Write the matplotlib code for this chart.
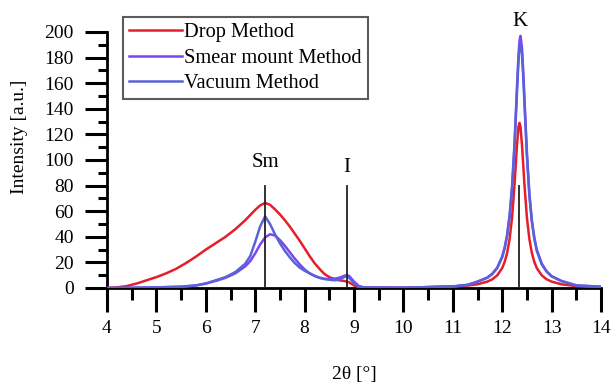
import matplotlib
matplotlib.use("Agg")
import matplotlib.pyplot as plt
from matplotlib.ticker import MultipleLocator

plt.rcParams['font.family'] = ['Liberation Serif', 'DejaVu Serif']

# ---- data ----
k_x = [11.0, 11.3, 11.5, 11.7, 11.8, 11.9, 12.0, 12.05, 12.1, 12.15, 12.2, 12.25,
       12.3, 12.33, 12.35, 12.37, 12.4, 12.43, 12.45, 12.5, 12.55, 12.6, 12.65,
       12.7, 12.8, 12.9, 13.0, 13.2, 13.5, 14.0]

drop_x = [4.0, 4.2, 4.4, 4.6, 4.8, 5.0, 5.2, 5.4, 5.6, 5.8, 6.0, 6.2, 6.4, 6.6, 6.8,
          6.9, 7.0, 7.1, 7.2, 7.3, 7.4, 7.5, 7.6, 7.7, 7.8, 7.9, 8.0, 8.1, 8.2, 8.3,
          8.4, 8.5, 8.6, 8.7, 8.8, 8.9, 9.0, 9.1, 9.3, 10.0] + k_x
drop_y = [0.0, 0.5, 1.5, 3.5, 6, 8.5, 11.5, 15, 19.5, 24.5, 30, 35, 40, 46, 53,
          57, 61, 64.5, 66.5, 65, 61.5, 57.5, 53, 48, 42.5, 37, 31, 25, 19.5, 15,
          11, 8.5, 7, 6, 5.5, 4.5, 2, 0.8, 0.3, 0.2,
          1.2, 1.9, 2.9, 5, 6.8, 9.9, 15.6, 20.4, 27.4, 38.3, 55, 81,
          112, 126, 129, 126, 112, 93.5, 81, 55, 38.3, 27.4, 20.4,
          15.6, 9.9, 6.8, 5, 2.9, 1.5, 0.5]

smear_x = [4.0, 4.5, 5.0, 5.5, 5.8, 6.0, 6.2, 6.4, 6.6, 6.8, 6.9, 7.0, 7.1, 7.2,
           7.3, 7.4, 7.5, 7.6, 7.7, 7.8, 7.9, 8.0, 8.1, 8.2, 8.3, 8.4, 8.5, 8.6,
           8.7, 8.8, 8.85, 8.9, 9.0, 9.1, 9.2, 10.0] + k_x
smear_y = [0.0, 0.2, 0.5, 1, 2, 3.5, 5.5, 8, 11.5, 17, 21, 27, 34, 39.5,
           42, 41, 37.5, 33, 28, 23, 18.5, 14.5, 11.5, 9.5, 8, 7.2, 7, 7.2,
           8, 9.5, 10, 9.5, 5, 1.5, 0.5, 0.2,
           1.2, 2.5, 5, 8.2, 11.2, 16, 24.7, 31.7, 41.7, 56.8, 79.7, 113.5,
           157.6, 182, 193, 197, 188, 166, 148.5, 106, 74, 53, 39.4,
           30, 19, 13, 9.3, 5.5, 2, 1]

vac_x = [4.0, 4.5, 5.0, 5.5, 5.8, 6.0, 6.2, 6.4, 6.6, 6.8, 6.9, 7.0, 7.1, 7.2,
         7.3, 7.4, 7.5, 7.6, 7.7, 7.8, 7.9, 8.0, 8.1, 8.2, 8.3, 8.4, 8.5, 8.6,
         8.7, 8.8, 8.85, 8.9, 9.0, 9.1, 9.2, 10.0] + k_x
vac_y = [0.0, 0.2, 0.5, 1, 2, 3.5, 6, 8.5, 12.5, 19, 25, 36, 48, 56,
         50, 42, 35, 29, 24, 19.5, 16, 13.5, 11.5, 9.5, 8, 7, 6.5, 6,
         6.5, 8.5, 9.5, 8, 4, 1, 0.3, 0.2,
         1.2, 2.4, 4.9, 8, 10.9, 15.6, 24, 31, 40.7, 55.4, 77.7, 110.7,
         153.7, 177.5, 188, 192, 183, 162, 145, 103, 72, 52, 38.4,
         29, 18.5, 12.7, 9, 5.4, 2, 1]

markers_x = [7.2, 8.85, 12.35]
markers_h = [80, 80, 80]
marker_labels = ['Sm', 'I', 'K']
marker_label_y = [98, 94, 208]

series_names = ['Drop Method', 'Smear mount Method', 'Vacuum Method']
series_colors = ['#e61e2a', '#7b45f5', '#5a62d8']

x_ticks = [4, 5, 6, 7, 8, 9, 10, 11, 12, 13, 14]
y_ticks = [0, 20, 40, 60, 80, 100, 120, 140, 160, 180, 200]

# ---- figure ----
fig = plt.figure(figsize=(6.12, 3.87), dpi=100)
W, H = 612, 387
ax = fig.add_axes([107 / W, 1 - 288 / H, (601 - 107) / W, (288 - 32) / H])

for xs, ys, name, col in zip([drop_x, smear_x, vac_x], [drop_y, smear_y, vac_y],
                             series_names, series_colors):
    ax.plot(xs, ys, color=col, lw=1.8, label=name, zorder=3)

for mx, mh, lab, ly in zip(markers_x, markers_h, marker_labels, marker_label_y):
    ax.plot([mx, mx], [0, mh], color='#222222', lw=1.3, zorder=4)
    ax.text(mx, ly, lab, ha='center', va='center', fontsize=15)

ax.set_xlim(4, 14)
ax.set_ylim(0, 200)
ax.set_xticks(x_ticks)
ax.set_yticks(y_ticks)
ax.xaxis.set_minor_locator(MultipleLocator(0.5))
ax.yaxis.set_minor_locator(MultipleLocator(10))
for s in ['top', 'right']:
    ax.spines[s].set_visible(False)
for s in ['left', 'bottom']:
    ax.spines[s].set_linewidth(2.0)
ax.tick_params(axis='y', which='major', direction='out', length=16, width=2.2, pad=8, labelsize=14)
ax.tick_params(axis='y', which='minor', direction='out', length=6.5, width=2.2)
ax.tick_params(axis='x', which='major', direction='out', length=17, width=2.2, pad=6, labelsize=14)
ax.tick_params(axis='x', which='minor', direction='out', length=8.5, width=2.2)
ax.patch.set_alpha(0)

fig.text(20 / W, 1 - 137 / H, 'Intensity [a.u.]', rotation=90, ha='center', va='center', fontsize=14)
fig.text(354 / W, 1 - 375 / H, '2θ [°]', ha='center', va='center', fontsize=14)

leg = ax.legend(loc='upper left', bbox_to_anchor=(123 / W, 1 - 17 / H),
                bbox_transform=fig.transFigure, fontsize=14.7, frameon=True,
                fancybox=False, borderpad=0.3, borderaxespad=0, handlelength=2.6,
                handletextpad=0.1, labelspacing=0.3)
leg.get_frame().set_edgecolor('#333333')
leg.get_frame().set_linewidth(1.5)

fig.savefig('out.png', dpi=100)
